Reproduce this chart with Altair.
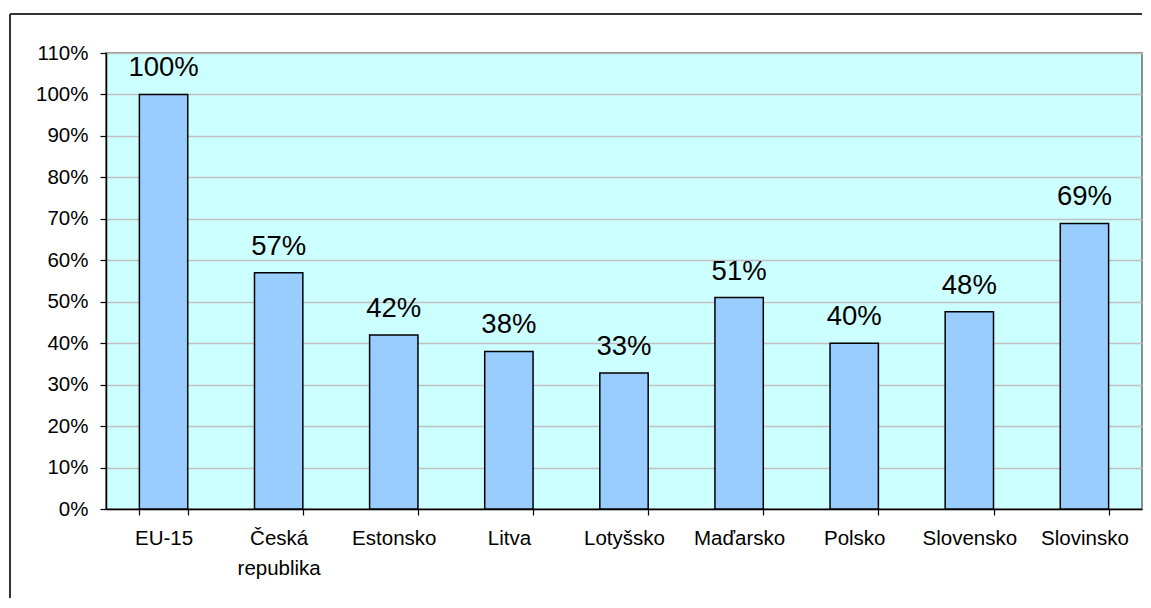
import altair as alt
import pandas as pd

countries = ["EU-15", "Česká republika", "Estonsko", "Litva", "Lotyšsko",
             "Maďarsko", "Polsko", "Slovensko", "Slovinsko"]
values = [100, 57, 42, 38, 32.8, 51, 40, 47.6, 68.9]

df = pd.DataFrame({"country": countries, "value": values})
df["label"] = [f"{round(v):d}%" for v in values]

FONT = "Liberation Sans"

x = alt.X("country:N", sort=countries, title=None,
          scale=alt.Scale(paddingInner=0.58, paddingOuter=0.29),
          axis=alt.Axis(labelAngle=0, labelExpr="split(datum.label, ' ')",
                        labelLineHeight=30, labelFontSize=20.5, labelFont=FONT,
                        labelColor="black", labelPadding=13, labelBaseline="top",
                        tickBand="extent", tickSize=6, tickColor="black",
                        tickWidth=1.2, domainColor="black", domainWidth=1.5,
                        grid=False))
y = alt.Y("value:Q", title=None,
          scale=alt.Scale(domain=[0, 110], nice=False),
          axis=alt.Axis(values=list(range(0, 111, 10)),
                        labelExpr="datum.value + '%'", labelFontSize=20.5,
                        labelFont=FONT, labelColor="black", labelPadding=12,
                        tickSize=6, tickColor="black", tickWidth=1.2,
                        domainColor="black", domainWidth=1.5,
                        gridColor="#C0C0C0", gridWidth=1.5))

bars = alt.Chart(df).mark_bar(color="#99CCFF", stroke="black",
                              strokeWidth=1.5).encode(x=x, y=y)
labels = alt.Chart(df).mark_text(font=FONT, fontSize=27.5, color="black",
                                 baseline="alphabetic", dy=-18).encode(
    x=alt.X("country:N", sort=countries), y="value:Q", text="label:N")

frame = alt.Data(values=[{"k": 1}])
top_line = alt.Chart(frame).mark_rule(color="#333333", strokeWidth=2,
                                      strokeCap="butt").encode(
    x=alt.value(-96), x2=alt.value(1036), y=alt.value(-39))
left_line = alt.Chart(frame).mark_rule(color="#333333", strokeWidth=2,
                                       strokeCap="butt").encode(
    x=alt.value(-96), y=alt.value(-39), y2=alt.value(545))

chart = alt.layer(bars, labels, top_line, left_line).properties(
    width=1036, height=456,
    autosize=alt.AutoSizeParams(type="none"),
    padding={"left": 98, "top": 45, "right": 1, "bottom": 90},
    background="white",
).configure_view(fill="#CCFFFF", stroke="#8C8C8C", strokeWidth=2)

chart.save("out.html", embed_options={"renderer": "svg", "actions": False})
